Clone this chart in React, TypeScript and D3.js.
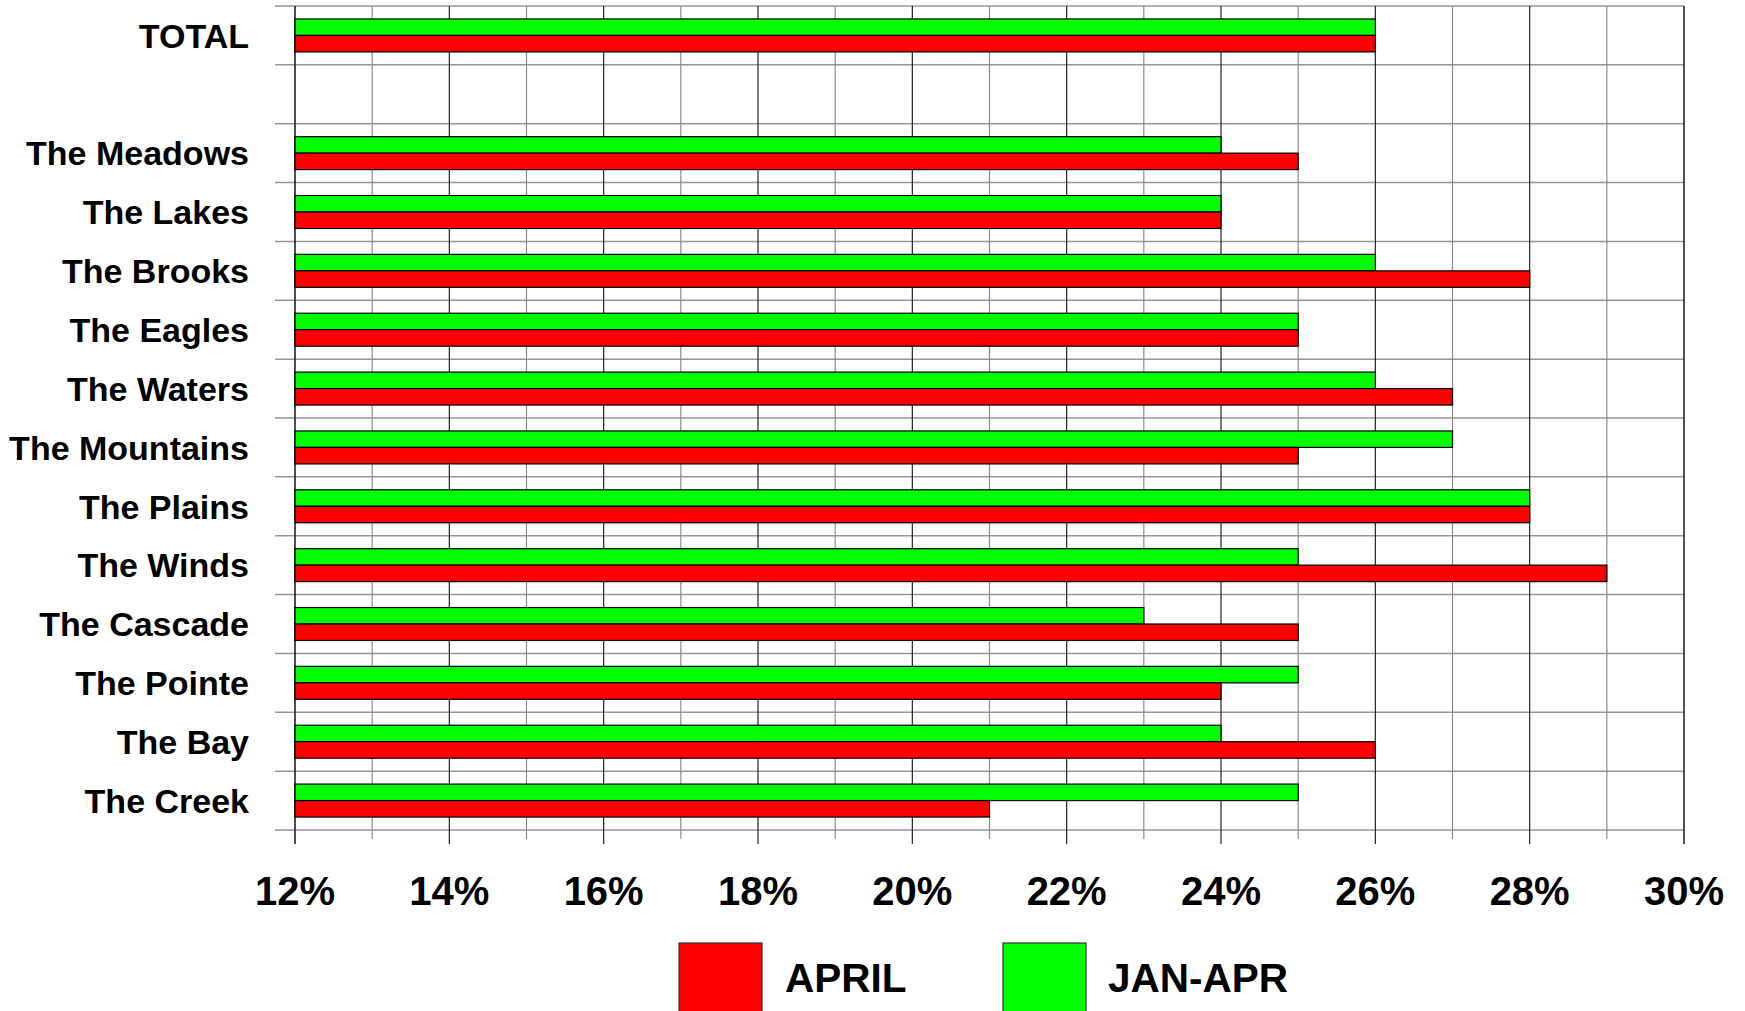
import React, { useEffect, useRef } from "react";
import * as d3 from "d3";

// rows top to bottom, the blank one is the spacer under TOTAL
const categories = [
  "TOTAL",
  "",
  "The Meadows",
  "The Lakes",
  "The Brooks",
  "The Eagles",
  "The Waters",
  "The Mountains",
  "The Plains",
  "The Winds",
  "The Cascade",
  "The Pointe",
  "The Bay",
  "The Creek",
];
const april = [26, null, 25, 24, 28, 25, 27, 25, 28, 29, 25, 24, 26, 21];
const janApr = [26, null, 24, 24, 26, 25, 26, 27, 28, 25, 23, 25, 24, 25];
const xTicks = [12, 14, 16, 18, 20, 22, 24, 26, 28, 30];
const seriesNames = ["APRIL", "JAN-APR"];

export default function App() {
  const ref = useRef<SVGSVGElement | null>(null);

  useEffect(() => {
    const width = 1745;
    const height = 1011;
    const left = 295;
    const right = 1684;
    const top = 6;
    const bottom = 830;
    const font = "'Liberation Sans', Arial, sans-serif";

    const svg = d3.select(ref.current);
    svg.selectAll("*").remove();
    svg.attr("width", width).attr("height", height);

    const x = d3.scaleLinear().domain([12, 30]).range([left, right]);
    const y = d3
      .scaleBand<number>()
      .domain(d3.range(categories.length))
      .range([top, bottom]);
    const bw = y.bandwidth();
    const barH = bw * 0.28;

    // horizontal grid + little ticks on the left
    const rows = d3.range(categories.length + 1).map((i) => top + i * bw);
    svg
      .append("g")
      .selectAll("line")
      .data(rows)
      .enter()
      .append("line")
      .attr("x1", left - 20)
      .attr("x2", right)
      .attr("y1", (d) => d)
      .attr("y2", (d) => d)
      .attr("stroke", "#969696")
      .attr("stroke-width", 1.5);

    // vertical grid, every 1%
    const allTicks = d3.range(12, 31);
    svg
      .append("g")
      .selectAll("line")
      .data(allTicks)
      .enter()
      .append("line")
      .attr("x1", (d) => x(d))
      .attr("x2", (d) => x(d))
      .attr("y1", top)
      .attr("y2", (d) => (d % 2 === 0 ? bottom + 14 : bottom + 9))
      .attr("stroke", (d) => (d % 2 === 0 ? "#222" : "#8c8c8c"))
      .attr("stroke-width", (d) => (d === 12 || d === 30 ? 1.6 : 1.2));

    // bars
    const bars = svg.append("g");
    categories.forEach((c, i) => {
      const mid = (y(i) as number) + bw / 2;
      if (janApr[i] != null) {
        bars
          .append("rect")
          .attr("x", x(12))
          .attr("y", mid - barH)
          .attr("width", x(janApr[i] as number) - x(12))
          .attr("height", barH)
          .attr("fill", "#00ff00")
          .attr("stroke", "#000")
          .attr("stroke-width", 1.2);
      }
      if (april[i] != null) {
        bars
          .append("rect")
          .attr("x", x(12))
          .attr("y", mid)
          .attr("width", x(april[i] as number) - x(12))
          .attr("height", barH)
          .attr("fill", "#ff0000")
          .attr("stroke", "#000")
          .attr("stroke-width", 1.2);
      }
    });

    // category labels
    svg
      .append("g")
      .selectAll("text")
      .data(categories)
      .enter()
      .append("text")
      .attr("x", 249)
      .attr("y", (d, i) => (y(i) as number) + bw / 2)
      .attr("dy", "0.36em")
      .attr("text-anchor", "end")
      .style("font-family", font)
      .style("font-weight", "bold")
      .style("font-size", "34px")
      .text((d) => d);

    // x tick labels
    svg
      .append("g")
      .selectAll("text")
      .data(xTicks)
      .enter()
      .append("text")
      .attr("x", (d) => x(d))
      .attr("y", 905)
      .attr("text-anchor", "middle")
      .style("font-family", font)
      .style("font-weight", "bold")
      .style("font-size", "40px")
      .text((d) => d + "%");

    // legend
    const legend = [
      { name: seriesNames[0], color: "#ff0000", bx: 679, tx: 785 },
      { name: seriesNames[1], color: "#00ff00", bx: 1003, tx: 1108 },
    ];
    legend.forEach((l) => {
      svg
        .append("rect")
        .attr("x", l.bx)
        .attr("y", 943)
        .attr("width", 83)
        .attr("height", 83)
        .attr("fill", l.color)
        .attr("stroke", "#333")
        .attr("stroke-width", 1.2);
      svg
        .append("text")
        .attr("x", l.tx)
        .attr("y", 992)
        .style("font-family", font)
        .style("font-weight", "bold")
        .style("font-size", "40.5px")
        .text(l.name);
    });
  }, []);

  return (
    <svg
      ref={ref}
      style={{ position: "absolute", left: 0, top: 0, background: "#fff" }}
    />
  );
}
